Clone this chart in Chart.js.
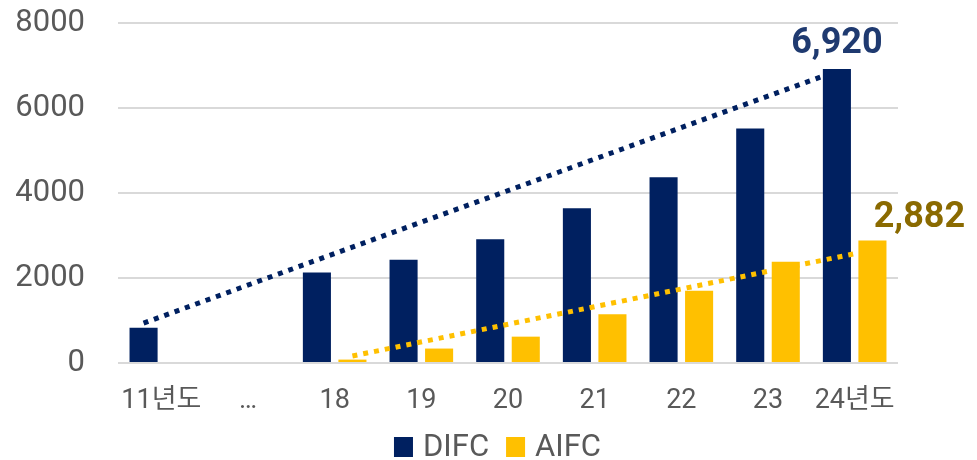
<!DOCTYPE html>
<html>
<head>
<meta charset="utf-8">
<script src="https://cdn.jsdelivr.net/npm/chart.js@4"></script>
<style>
  html, body { margin: 0; background: #fff; }
</style>
</head>
<body>
<canvas id="chart" width="977" height="460"></canvas>
<script>
// 데이터
const categories = ['11년도', '…', '18', '19', '20', '21', '22', '23', '24년도'];
const difcValues = [830, null, 2130, 2430, 2910, 3640, 4370, 5520, 6920];
const aifcValues = [null, null, 80, 340, 620, 1150, 1700, 2380, 2882];
// 추세선 (시작/끝 값만)
const difcTrend = [940, null, null, null, null, null, null, null, 6750];
const aifcTrend = [null, null, 165, null, null, null, null, null, 2590];
const yTicks = [0, 2000, 4000, 6000, 8000];

const NAVY = '#002060';
const GOLD = '#FFC000';
const TEXT = '#595959';
const FONT = 'Roboto, "Noto Sans CJK KR", sans-serif';

const trends = [
    { dataset: 0, values: difcTrend, color: NAVY },
    { dataset: 1, values: aifcTrend, color: GOLD }
];

const endLabels = [
    { dataset: 0, color: '#1F3A70', dx: 0, dy: -16 },
    { dataset: 1, color: '#8A6A00', dx: 47, dy: -14 }
];

// 추세선, 마지막 값 라벨, 범례
const overlayPlugin = {
    id: 'overlay',
    afterDatasetsDraw(chart) {
        const ctx = chart.ctx;
        const y = chart.scales.y;

        trends.forEach(t => {
            const meta = chart.getDatasetMeta(t.dataset);
            const idx = t.values.map((v, i) => v == null ? -1 : i).filter(i => i >= 0);
            const i0 = idx[0], i1 = idx[idx.length - 1];
            const b0 = meta.data[i0], b1 = meta.data[i1];
            ctx.save();
            ctx.strokeStyle = t.color;
            ctx.lineWidth = 5;
            ctx.setLineDash([5, 6]);
            ctx.beginPath();
            ctx.moveTo(b0.x, y.getPixelForValue(t.values[i0]));
            ctx.lineTo(b1.x - b1.width / 2, y.getPixelForValue(t.values[i1]));
            ctx.stroke();
            ctx.restore();
        });

        endLabels.forEach(l => {
            const data = chart.data.datasets[l.dataset].data;
            const last = data.length - 1;
            const bar = chart.getDatasetMeta(l.dataset).data[last];
            ctx.save();
            ctx.font = 'bold 36px ' + FONT;
            ctx.fillStyle = l.color;
            ctx.textAlign = 'center';
            ctx.textBaseline = 'alphabetic';
            ctx.fillText(data[last].toLocaleString('en-US'), bar.x + l.dx, bar.y + l.dy);
            ctx.restore();
        });
    },
    afterDraw(chart) {
        // 범례 (직접 그림)
        const ctx = chart.ctx;
        const sets = chart.data.datasets;
        const boxW = 19, boxH = 20, gapText = 10, gapItem = 17;
        ctx.save();
        ctx.font = '31px ' + FONT;
        const widths = sets.map(d => ctx.measureText(d.label).width);
        const total = widths.reduce((a, w) => a + boxW + gapText + w, 0) + gapItem * (sets.length - 1);
        let x = chart.width / 2 + 9 - total / 2;
        const cy = 447;
        ctx.textBaseline = 'middle';
        ctx.textAlign = 'left';
        sets.forEach((d, i) => {
            ctx.fillStyle = d.backgroundColor;
            ctx.fillRect(x, cy - boxH / 2, boxW, boxH);
            x += boxW + gapText;
            ctx.fillStyle = TEXT;
            ctx.fillText(d.label, x, cy + 1);
            x += widths[i] + gapItem;
        });
        ctx.restore();
    }
};

new Chart(document.getElementById('chart'), {
    type: 'bar',
    data: {
        labels: categories,
        datasets: [
            { label: 'DIFC', data: difcValues, backgroundColor: NAVY },
            { label: 'AIFC', data: aifcValues, backgroundColor: GOLD }
        ]
    },
    options: {
        responsive: false,
        animation: false,
        datasets: {
            bar: { categoryPercentage: 0.82, barPercentage: 0.79 }
        },
        layout: {
            padding: { left: 0, right: 79, top: 23, bottom: 0 }
        },
        plugins: {
            tooltip: { enabled: false },
            legend: { display: false }
        },
        scales: {
            x: {
                afterFit: scale => { scale.height = 97; },
                grid: { display: false, drawTicks: false },
                border: { display: false },
                ticks: {
                    font: { family: FONT, size: 27 },
                    color: TEXT,
                    padding: 22,
                    maxRotation: 0,
                    autoSkip: false
                }
            },
            y: {
                min: 0,
                max: 8000,
                afterBuildTicks: scale => { scale.ticks = yTicks.map(v => ({ value: v })); },
                afterFit: scale => {
                    scale.width = 118;
                    scale.paddingTop = 0;
                    scale.paddingBottom = 0;
                },
                grid: { color: '#D9D9D9', lineWidth: 2, drawTicks: false },
                border: { display: false },
                ticks: {
                    font: { family: FONT, size: 31 },
                    color: TEXT,
                    padding: 33,
                    callback: value => String(value)
                }
            }
        }
    },
    plugins: [overlayPlugin]
});
</script>
</body>
</html>
